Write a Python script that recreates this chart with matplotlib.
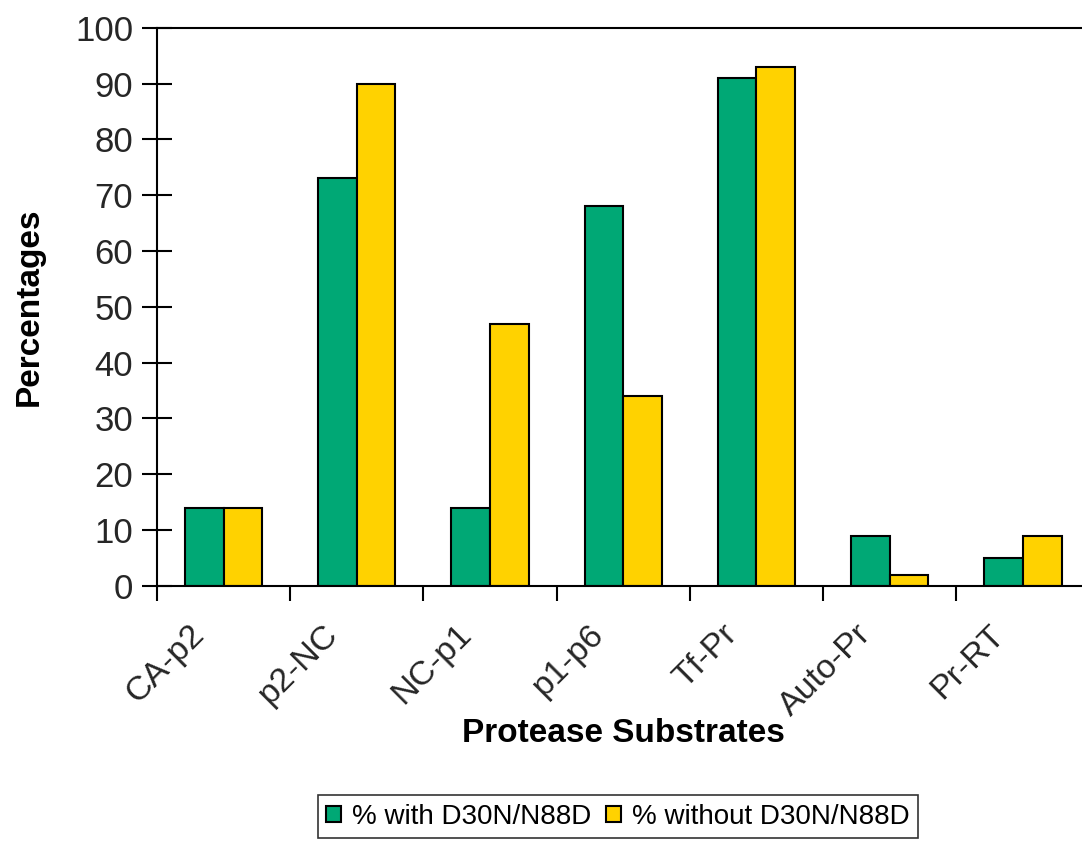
import numpy as np
import matplotlib.pyplot as plt

plt.rcParams['font.family'] = ['Liberation Sans', 'DejaVu Sans']

substrates = ['CA-p2', 'p2-NC', 'NC-p1', 'p1-p6', 'Tf-Pr', 'Auto-Pr', 'Pr-RT']
with_mut = [14, 73, 14, 68, 91, 9, 5]
without_mut = [14, 90, 47, 34, 93, 2, 9]

green = '#00a875'
yellow = '#ffd200'
txt = '#262626'

fig = plt.figure(figsize=(10.82, 8.44), dpi=100)
ax = fig.add_axes([0.145, 0.306, 0.862, 0.661])

x = np.arange(len(substrates))
w = 0.29
ax.bar(x - w / 2, with_mut, w, color=green, edgecolor='black', linewidth=1.5,
       label='% with D30N/N88D')
ax.bar(x + w / 2, without_mut, w, color=yellow, edgecolor='black', linewidth=1.5,
       label='% without D30N/N88D')

ax.set_xlim(-0.5, 6.5)
ax.set_ylim(0, 100)
ax.set_yticks(range(0, 101, 10))

# category ticks sit between the groups; labels hang slightly left of each group
ax.set_xticks(np.arange(-0.5, 7, 1), minor=False)
ax.set_xticklabels([])
ax.set_xticks(x - 0.26, minor=True)
ax.set_xticklabels(substrates, minor=True, rotation=45, ha='right',
                   rotation_mode='anchor', fontsize=24.5, color=txt)
ax.tick_params(axis='x', which='minor', length=0, pad=24)
ax.tick_params(axis='x', which='major', direction='out', length=11, width=1.5)
ax.tick_params(axis='y', direction='inout', length=22, width=1.5,
               labelsize=25, pad=6, labelcolor=txt)

for s in ax.spines.values():
    s.set_linewidth(1.5)

ax.set_ylabel('Percentages', fontsize=24, fontweight='bold', labelpad=22)
ax.set_xlabel('Protease Substrates', fontsize=24, fontweight='bold', labelpad=-3)

leg = fig.legend(loc='lower center', bbox_to_anchor=(0.571, 0.007), ncol=2,
                 fontsize=20, frameon=True, fancybox=False, edgecolor='black',
                 handlelength=0.55, handleheight=0.55, handletextpad=0.4,
                 columnspacing=0.5, borderpad=0.3, borderaxespad=0)
leg.get_frame().set_linewidth(1.2)

fig.savefig('out.png', dpi=100)
